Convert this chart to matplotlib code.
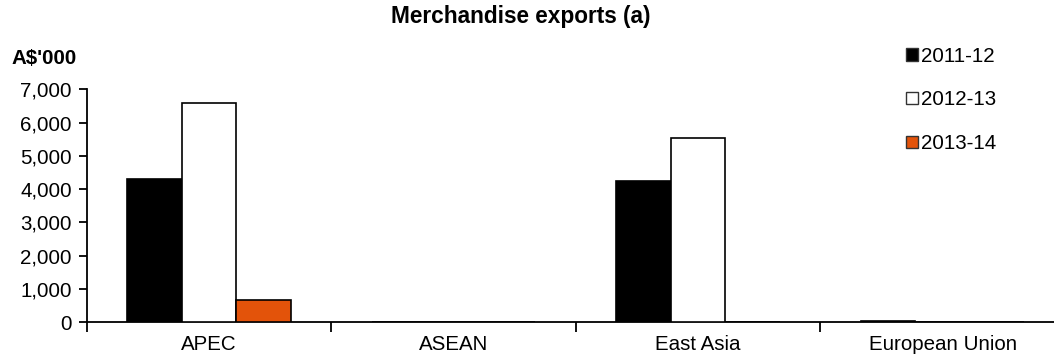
import matplotlib
matplotlib.use("Agg")
import matplotlib.pyplot as plt
import numpy as np
from matplotlib.patches import Patch

plt.rcParams["font.family"] = ["Liberation Sans", "DejaVu Sans"]

categories = ["APEC", "ASEAN", "East Asia", "European Union"]
series_names = ["2011-12", "2012-13", "2013-14"]
values_2011_12 = [4320, 0, 4240, 40]
values_2012_13 = [6600, 0, 5545, 0]
values_2013_14 = [660, 0, 0, 0]
y_ticks = [0, 1000, 2000, 3000, 4000, 5000, 6000, 7000]

colors = ["#000000", "#FFFFFF", "#E3530A"]
series = [values_2011_12, values_2012_13, values_2013_14]

fig = plt.figure(figsize=(10.54, 3.56), dpi=100)
ax = fig.add_axes([0.0825, 0.0947, 1.0104 - 0.0825, 0.749 - 0.0947])

x = np.arange(len(categories))
width = 0.223
for i, (vals, col) in enumerate(zip(series, colors)):
    ax.bar(x + (i - 1) * width, vals, width, color=col,
           edgecolor="black", linewidth=1.2, zorder=3)

ax.set_xlim(-0.5, len(categories) - 0.5)
ax.set_ylim(0, 7000)
ax.set_yticks(y_ticks)
ax.set_yticklabels([f"{v:,}" for v in y_ticks], fontsize=14.8)

ax.set_xticks(x)
ax.set_xticklabels(categories, fontsize=14.8)
ax.set_xticks(np.arange(len(categories) + 1) - 0.5, minor=True)
ax.tick_params(axis="x", which="major", length=0, pad=9)
ax.tick_params(axis="x", which="minor", length=7, width=1.3, direction="out")
ax.tick_params(axis="y", length=6, width=1.3, direction="out", pad=5)

for side in ["top", "right"]:
    ax.spines[side].set_visible(False)
for side in ["left", "bottom"]:
    ax.spines[side].set_linewidth(1.3)

fig.text(0.494, 0.955, "Merchandise exports (a)", ha="center", va="center",
         fontsize=16.3, fontweight="bold")
fig.text(0.011, 0.835, "A$'000", ha="left", va="center",
         fontsize=14.8, fontweight="bold")

handles = [Patch(facecolor=c, edgecolor="#333333", linewidth=1.0) for c in colors]
fig.legend(handles, series_names, loc="upper left", bbox_to_anchor=(0.86, 0.869),
           frameon=False, fontsize=14.8, handlelength=0.55, handleheight=0.55,
           handletextpad=0.15, labelspacing=1.2, borderpad=0, borderaxespad=0)

fig.savefig("out.png", dpi=100)
